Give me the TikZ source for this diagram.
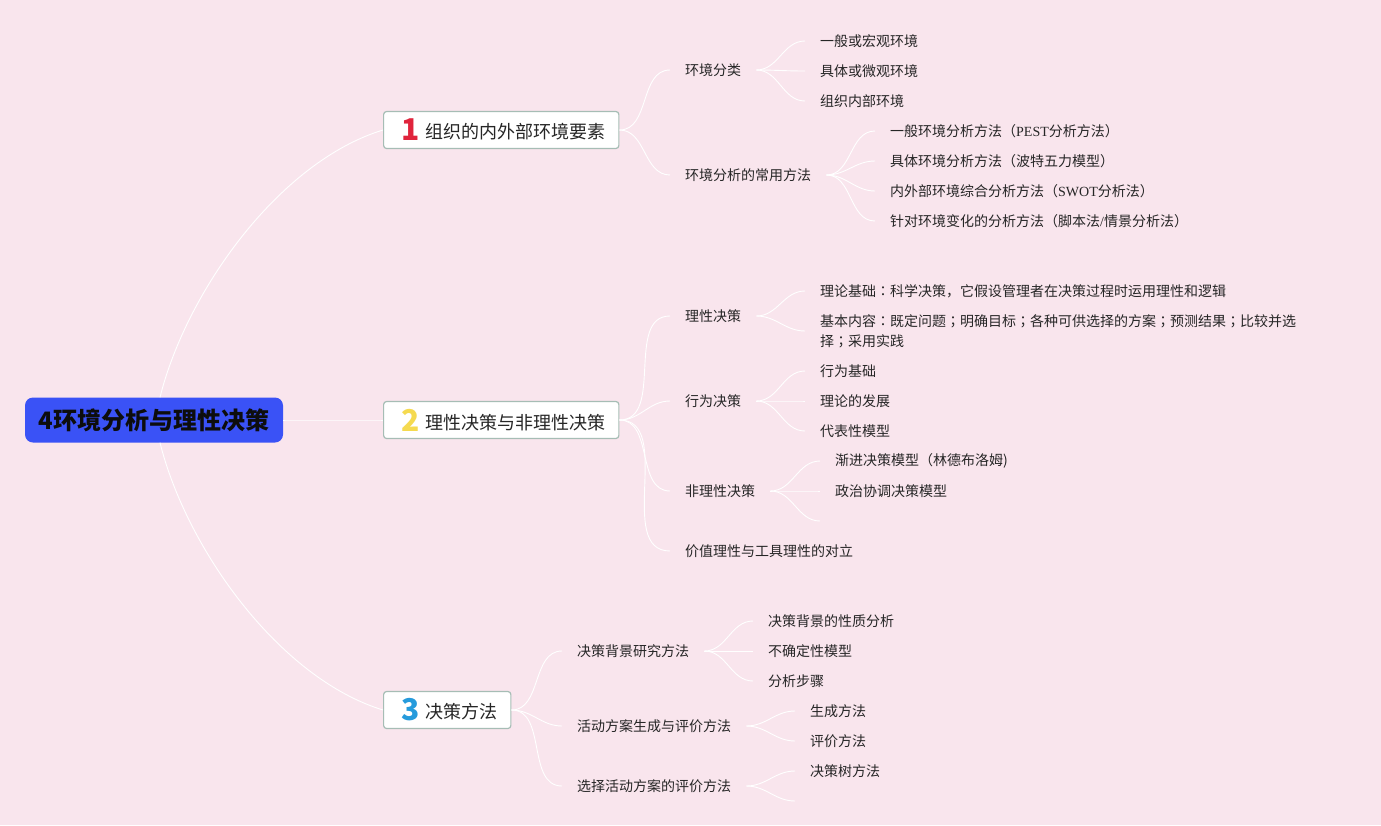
\documentclass[tikz,border=0pt]{standalone}
\usepackage{fontspec}
\usepackage{xcolor}
\setmainfont{Noto Sans CJK SC}
\newfontfamily\latinfont{Liberation Serif}
\newfontfamily\tcpunct{Noto Sans CJK TC}

\definecolor{bgpink}{RGB}{249,229,237}
\definecolor{rootblue}{RGB}{58,82,246}
\definecolor{topicline}{RGB}{166,189,181}
\definecolor{textgray}{RGB}{38,38,38}
\definecolor{numred}{RGB}{224,36,60}
\definecolor{numyellow}{RGB}{245,218,80}
\definecolor{numblue}{RGB}{38,155,220}

\tikzset{
  root/.style={rectangle, rounded corners=8pt, fill=rootblue, minimum width=258pt, minimum height=45pt, inner sep=0pt, font=\fontsize{24}{26}\selectfont\bfseries, text=black!95},
  topic/.style={rectangle, rounded corners=3pt, fill=white, draw=topicline, line width=1.2pt, minimum height=37pt, inner xsep=18pt, inner ysep=0pt, anchor=west, font=\fontsize{18}{20}\selectfont, text=textgray},
  sub/.style={anchor=west, inner xsep=15pt, inner ysep=2pt, font=\fontsize{14}{20}\selectfont, text=textgray, align=left},
  link/.style={draw=white, line width=0.9pt, out=0, in=180},
}
\newcommand{\topicnum}[2]{\raisebox{-2pt}{\fontsize{30}{30}\selectfont\bfseries\color{#1}#2}\hspace{6pt}}
\newcommand{\cc}[1]{{\tcpunct #1}}

\begin{document}
\begin{tikzpicture}[x=1pt,y=1pt]
\fill[bgpink] (0,0) rectangle (1381,-825);
\useasboundingbox (0,0) rectangle (1381,-825);

% root and the three topics
\node[root] (root) at (154,-420) {4环境分析与理性决策};
\node[topic] (org) at (383,-130) {\topicnum{numred}{1}组织的内外部环境要素\kern-5pt};
\node[topic] (rat) at (383,-420) {\topicnum{numyellow}{2}理性决策与非理性决策\kern-5pt};
\node[topic] (meth) at (383,-710) {\topicnum{numblue}{3}决策方法\kern-5pt};

% topic 1
\node[sub] (envcls) at (670,-70) {环境分类};
\node[sub] (envmeth) at (670,-175) {环境分析的常用方法};
\node[sub] (macro) at (805,-41) {一般或宏观环境};
\node[sub] (micro) at (805,-71) {具体或微观环境};
\node[sub] (inner) at (805,-101) {组织内部环境};
\node[sub] (pest) at (875,-131) {一般环境分析方法（{\latinfont PEST}分析方法）};
\node[sub] (porter) at (875,-161) {具体环境分析方法（波特五力模型）};
\node[sub] (swot) at (875,-191) {内外部环境综合分析方法（{\latinfont SWOT}分析法）};
\node[sub] (scen) at (875,-221) {针对环境变化的分析方法（脚本法{\latinfont /}情景分析法）};

% topic 2
\node[sub] (ratdec) at (670,-316) {理性决策};
\node[sub] (behdec) at (670,-401) {行为决策};
\node[sub] (irrdec) at (670,-491) {非理性决策};
\node[sub] (value) at (670,-551) {价值理性与工具理性的对立};
\node[sub] (theory) at (805,-291) {理论基础\cc{：}科学决策，它假设管理者在决策过程时运用理性和逻辑};
\node[sub] (content) at (805,-331) {基本内容\cc{：}既定问题\cc{；}明确目标\cc{；}各种可供选择的方案\cc{；}预测结果\cc{；}比较并选\\择\cc{；}采用实践};
\node[sub] (behbase) at (805,-371) {行为基础};
\node[sub] (behdev) at (805,-401) {理论的发展};
\node[sub] (behmod) at (805,-431) {代表性模型};
\node[sub] (incr) at (820,-461) {渐进决策模型（林德布洛姆)};
\node[sub] (polit) at (820,-491) {政治协调决策模型};
\coordinate (irrend) at (820,-521);

% topic 3
\node[sub] (bgres) at (562,-651) {决策背景研究方法};
\node[sub] (altgen) at (562,-726) {活动方案生成与评价方法};
\node[sub] (altsel) at (562,-786) {选择活动方案的评价方法};
\node[sub] (bgnat) at (753,-621) {决策背景的性质分析};
\node[sub] (uncert) at (753,-651) {不确定性模型};
\node[sub] (steps) at (753,-681) {分析步骤};
\node[sub] (gen) at (795,-711) {生成方法};
\node[sub] (eval) at (795,-741) {评价方法};
\node[sub] (tree) at (795,-771) {决策树方法};
\coordinate (selend) at (795,-801);

% connectors
\draw[link] (root.east) to (rat.west);
\draw[link] ([xshift=6pt]root.north) to[out=76,in=197,looseness=0.8] (org.west);
\draw[link] ([xshift=6pt]root.south) to[out=-76,in=163,looseness=0.8] (meth.west);
\foreach \a/\b in {org/envcls, org/envmeth, envcls/macro, envcls/micro, envcls/inner,
  envmeth/pest, envmeth/porter, envmeth/swot, envmeth/scen,
  rat/ratdec, rat/behdec, rat/irrdec, rat/value, ratdec/theory, ratdec/content,
  behdec/behbase, behdec/behdev, behdec/behmod, irrdec/incr, irrdec/polit,
  meth/bgres, meth/altgen, meth/altsel, bgres/bgnat, bgres/uncert, bgres/steps,
  altgen/gen, altgen/eval, altsel/tree}
  \draw[link] (\a.east) to (\b.west);
\draw[link] (irrdec.east) to (irrend);
\draw[link] (altsel.east) to (selend);
\end{tikzpicture}
\end{document}
